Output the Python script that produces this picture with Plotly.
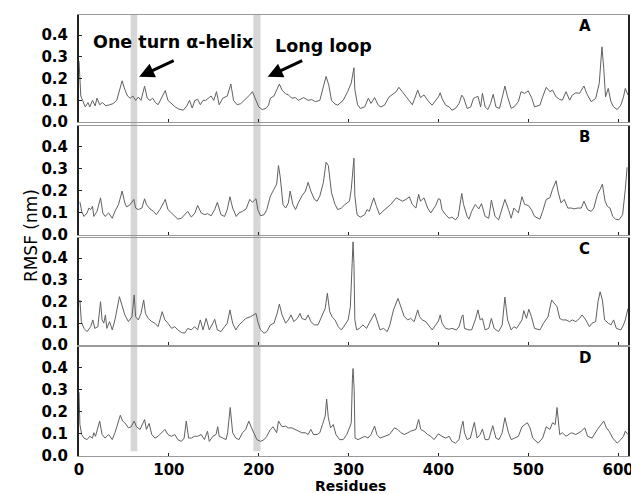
import plotly.graph_objects as go
from plotly.subplots import make_subplots

# ---------------- data ----------------
res_A = [0, 2, 4, 7, 10, 12, 15, 18, 20, 23, 26, 30, 34, 38, 42, 45, 48, 51, 54, 57, 60, 63, 66, 69, 73, 76, 79, 82, 85, 88,
         92, 96, 99, 103, 107, 111, 116, 120, 123, 126, 129, 132, 135, 138, 141, 144, 147, 150, 153, 156, 160, 165, 169, 172, 176, 180, 184, 187,
         190, 193, 196, 200, 204, 208, 211, 213, 217, 220, 223, 226, 230, 233, 237, 241, 244, 250, 255, 259, 263, 268, 272, 275, 278, 281,
         285, 288, 294, 299, 303, 306, 307, 310, 313, 318, 322, 325, 329, 333, 336, 340, 345, 350, 353, 356, 360, 364, 368, 371, 377, 380,
         384, 388, 393, 397,
         400, 402, 404, 408, 412, 415, 419, 423, 426, 428, 432, 436, 439, 441, 444, 447, 449, 452, 455, 458, 461, 464, 468, 471, 474, 477,
         481, 484, 489, 492, 496, 500, 504, 507, 513, 516, 520, 524, 527, 531, 535, 538, 542, 546, 549, 553, 557, 562, 565, 570, 575, 579,
         582, 584, 586, 589, 592, 595, 599, 603, 606, 608, 611]
rmsf_A = [0.280, 0.120, 0.100, 0.070, 0.090, 0.070, 0.100, 0.075, 0.110, 0.080, 0.090, 0.075, 0.080, 0.085, 0.100, 0.150, 0.190, 0.150, 0.120, 0.110,
          0.120, 0.100, 0.115, 0.100, 0.165, 0.110, 0.100, 0.110, 0.090, 0.080,
          0.110, 0.145, 0.100, 0.085, 0.070, 0.060, 0.055, 0.075, 0.100, 0.065, 0.100, 0.105, 0.080, 0.100, 0.100, 0.110, 0.120, 0.100, 0.140, 0.080,
          0.110, 0.120, 0.175, 0.100, 0.080, 0.085, 0.100, 0.110,
          0.125, 0.140, 0.110, 0.070, 0.058, 0.063, 0.078, 0.110, 0.120, 0.147, 0.175, 0.147, 0.130, 0.125, 0.110, 0.113, 0.100, 0.113, 0.100,
          0.104, 0.094, 0.100, 0.160, 0.210, 0.170, 0.100,
          0.083, 0.078, 0.100, 0.140, 0.180, 0.250, 0.150, 0.080, 0.063, 0.070, 0.110, 0.086, 0.113, 0.078, 0.070, 0.078, 0.115, 0.130, 0.140,
          0.160, 0.140, 0.115, 0.100, 0.080, 0.147, 0.113,
          0.125, 0.100, 0.078, 0.100,
          0.116, 0.135, 0.109, 0.078, 0.070, 0.055, 0.063, 0.086, 0.124, 0.113, 0.063, 0.070, 0.109, 0.113, 0.119, 0.070, 0.132, 0.070, 0.058,
          0.086, 0.128, 0.070, 0.063, 0.113, 0.166, 0.116,
          0.063, 0.070, 0.094, 0.140, 0.132, 0.144, 0.109, 0.070, 0.078, 0.116, 0.160, 0.140, 0.147, 0.116, 0.104, 0.101, 0.140, 0.101, 0.124,
          0.135, 0.132, 0.166, 0.132, 0.094, 0.109, 0.178,
          0.346, 0.247, 0.116, 0.155, 0.094, 0.070, 0.058, 0.078, 0.116, 0.155, 0.124]

res_B = [1, 3, 5.5, 9, 11, 13, 15, 16.5, 20, 24, 26.5, 29, 33, 37, 40, 44, 48, 51, 53, 57, 61, 63, 66, 70, 73, 75, 79, 83, 86, 90,
         94, 96, 99, 103, 107, 110, 114, 118, 121, 125, 129, 132, 136, 140, 143, 147, 151, 154, 158, 162, 165, 168, 171, 175, 178, 182, 186,
         190, 193, 197, 199, 202, 206, 209, 213, 217, 220, 222, 224, 227, 230, 233, 235, 238, 241, 244, 248, 252, 255, 258, 262, 265, 268,
         272, 275, 277.5, 281, 285, 288, 292, 296, 301, 303, 306, 307, 309.5, 313, 318, 320.5, 323, 328, 331, 334.5, 338, 343, 347, 353,
         356.5, 360, 364, 367.6, 371, 375, 378, 380, 384, 388, 391.5, 395, 397,
         400, 402, 404, 408, 412, 415, 419, 422, 426, 428, 432, 434, 437, 441, 445, 448, 452, 456, 459, 463, 467, 470, 474, 478, 481, 484,
         489, 493, 496, 500, 503.5, 507, 513, 516, 520, 524, 527, 531, 533, 536.5, 540, 544, 548, 551, 555, 559, 562, 566, 570, 573, 577,
         580, 582.5, 585.5, 588, 591, 594, 597, 601, 605, 606.5, 608, 610]
rmsf_B = [0.150, 0.107, 0.084, 0.100, 0.122, 0.115, 0.130, 0.084, 0.107, 0.168, 0.100, 0.084, 0.100, 0.076, 0.107, 0.138, 0.199, 0.145, 0.127,
          0.138, 0.161, 0.122, 0.115, 0.122, 0.164, 0.138, 0.118, 0.107, 0.092, 0.115,
          0.145, 0.161, 0.115, 0.100, 0.084, 0.072, 0.076, 0.092, 0.107, 0.081, 0.100, 0.134, 0.100, 0.092, 0.097, 0.087, 0.115, 0.148, 0.092,
          0.084, 0.115, 0.173, 0.122, 0.084, 0.100, 0.107, 0.118,
          0.161, 0.148, 0.164, 0.115, 0.087, 0.092, 0.115, 0.176, 0.207, 0.230, 0.314, 0.261, 0.138, 0.122, 0.145, 0.199, 0.138, 0.115, 0.145,
          0.176, 0.199, 0.238, 0.199, 0.161, 0.153, 0.176,
          0.238, 0.329, 0.314, 0.191, 0.138, 0.115, 0.122, 0.138, 0.153, 0.207, 0.347, 0.176, 0.092, 0.081, 0.092, 0.115, 0.107, 0.168, 0.130,
          0.092, 0.107, 0.122, 0.138, 0.168,
          0.161, 0.153, 0.161, 0.173, 0.138, 0.122, 0.184, 0.153, 0.168, 0.122, 0.100, 0.122, 0.134,
          0.164, 0.161, 0.115, 0.092, 0.076, 0.081, 0.069, 0.084, 0.188, 0.138, 0.084, 0.072, 0.107, 0.138, 0.118, 0.142, 0.084, 0.076, 0.158,
          0.084, 0.069, 0.107, 0.161, 0.115, 0.076, 0.122,
          0.100, 0.173, 0.138, 0.134, 0.115, 0.084, 0.072, 0.107, 0.161, 0.168, 0.207, 0.245, 0.199, 0.145, 0.161, 0.122, 0.122, 0.118, 0.122,
          0.122, 0.153, 0.115, 0.107, 0.122, 0.184,
          0.207, 0.230, 0.153, 0.130, 0.122, 0.084, 0.072, 0.069, 0.092, 0.138, 0.207, 0.306]

res_C = [1, 2.6, 5.5, 9, 13, 15.4, 17.6, 21, 24, 25.7, 27.6, 29.4, 31, 34, 37, 40, 45, 48, 51, 55, 59, 61.4, 63, 66, 69, 72, 74, 77, 81,
         84.5, 88, 92.6, 95.6, 99, 103, 106.6, 110, 114, 117.6, 121, 125, 128.6, 132, 135, 138, 141.5, 145, 149, 151, 154, 158, 162, 165,
         168, 171, 174.5, 178, 182, 185.6,
         191, 195, 197, 199, 202, 206, 209, 213, 217, 220.5, 223, 226, 230, 233, 236, 239, 243, 246, 248, 252, 255, 258, 262, 266, 270, 274,
         276.4, 279, 282, 285, 288.5, 292, 296, 299.5, 302, 304, 305, 306, 307, 309, 312, 316, 320, 323, 326, 329, 331.5, 335, 339, 343,
         346, 350, 355, 358, 362, 366, 369, 373, 377, 379, 382, 386, 390, 393, 397,
         400, 402, 404, 408, 412, 415, 420, 423, 426, 427.4, 429, 434, 437, 441, 444, 446.5, 449, 452, 456, 459, 462, 467, 471, 474, 477,
         481, 484, 487, 491, 493, 495, 498, 500.6, 503.5, 507, 513, 517, 522, 526, 529, 532, 535, 538, 542, 546, 549, 553, 557, 560, 564,
         568, 571, 575, 577.6, 580, 582.5, 585, 589, 592, 595, 598, 603, 606, 608, 611]
rmsf_C = [0.207, 0.107, 0.076, 0.061, 0.084, 0.115, 0.076, 0.084, 0.199, 0.115, 0.100, 0.138, 0.076, 0.107, 0.069, 0.115, 0.222, 0.184, 0.138,
          0.107, 0.130, 0.230, 0.130, 0.115, 0.145, 0.207, 0.145, 0.122, 0.107,
          0.100, 0.084, 0.153, 0.115, 0.100, 0.076, 0.084, 0.069, 0.057, 0.054, 0.076, 0.069, 0.084, 0.069, 0.115, 0.069, 0.122, 0.069, 0.100,
          0.118, 0.069, 0.061, 0.084, 0.100,
          0.161, 0.100, 0.069, 0.092, 0.107, 0.122,
          0.130, 0.138, 0.145, 0.107, 0.069, 0.054, 0.061, 0.092, 0.100, 0.145, 0.188, 0.138, 0.100, 0.115, 0.138, 0.107, 0.122, 0.145, 0.122,
          0.115, 0.138, 0.107, 0.092, 0.092, 0.130, 0.168,
          0.238, 0.153, 0.127, 0.115, 0.084, 0.069, 0.092, 0.115, 0.176, 0.375, 0.475, 0.375, 0.115, 0.069, 0.076, 0.092, 0.076, 0.100, 0.122,
          0.145, 0.115, 0.069, 0.076, 0.061,
          0.092, 0.161, 0.214, 0.176, 0.130, 0.115, 0.122, 0.107, 0.161, 0.130, 0.115, 0.107, 0.084, 0.069, 0.092,
          0.110, 0.138, 0.100, 0.076, 0.072, 0.076, 0.069, 0.084, 0.130, 0.138, 0.076, 0.069, 0.069, 0.115, 0.161, 0.115, 0.122, 0.069, 0.076,
          0.122, 0.076, 0.061, 0.092, 0.220, 0.115,
          0.069, 0.084, 0.076, 0.100, 0.115, 0.158, 0.122, 0.164, 0.130, 0.076, 0.069, 0.100, 0.130, 0.207, 0.191, 0.176, 0.122, 0.115, 0.115,
          0.107, 0.115, 0.107, 0.122, 0.138, 0.115,
          0.084, 0.100, 0.107, 0.199, 0.245, 0.207, 0.115, 0.100, 0.092, 0.115, 0.076, 0.069, 0.092, 0.115, 0.168]

res_D = [0, 1, 3, 5.5, 9, 12, 15, 16.5, 18.4, 20, 23, 25.7, 29, 33, 37, 40, 46, 48.5, 51, 55, 58, 61.4, 64, 68, 73, 75, 78, 81, 84.5,
         88, 92, 95.6, 99, 103, 106.6, 110, 114, 117, 119.4, 122, 125, 128.6, 132, 136, 139.6, 143, 145, 149, 152.5, 154.4, 156, 160,
         163.6, 165.4, 168.3, 171, 174.5, 178, 182, 185.6,
         189, 192, 195, 198, 202, 206, 209, 213, 216, 220, 222, 226, 230, 233, 237, 241, 244, 248, 252, 255, 258, 261, 265, 268, 271, 274,
         275.6, 277.5, 280, 283, 286, 290, 294, 298, 301, 303, 304.3, 305, 306.2, 307.2, 310.5, 314, 318, 321.6, 325, 329, 331.5, 335, 340,
         345.5, 351, 354.7, 358.4, 362, 366, 369, 375, 378, 380.4, 384, 388, 391.5, 395,
         400, 404, 408, 412, 415, 419, 423, 425.6, 427.4, 429, 432, 435.5, 440, 443, 446.5, 449, 452, 456, 460.5, 464, 467.5, 471, 474, 478,
         481, 485, 489, 493, 496, 499, 502, 505, 511, 516, 520, 524, 527, 530, 532, 535, 538, 542, 548, 553, 559, 563, 566, 571, 577, 581,
         584, 587, 590, 594, 599, 603, 606, 608, 611]
rmsf_D = [0.288, 0.142, 0.097, 0.081, 0.074, 0.089, 0.081, 0.105, 0.089, 0.112, 0.158, 0.097, 0.081, 0.097, 0.074, 0.105, 0.184, 0.158, 0.150,
          0.127, 0.132, 0.158, 0.132, 0.120, 0.165, 0.120, 0.147, 0.097, 0.081,
          0.089, 0.105, 0.120, 0.097, 0.089, 0.097, 0.074, 0.066, 0.081, 0.158, 0.081, 0.081, 0.089, 0.089, 0.097, 0.074, 0.112, 0.066, 0.089,
          0.097, 0.132, 0.089, 0.081,
          0.074, 0.105, 0.219, 0.105, 0.081, 0.074, 0.105, 0.120,
          0.158, 0.127, 0.097, 0.074, 0.066, 0.074, 0.089, 0.120, 0.132, 0.105, 0.158, 0.132, 0.135, 0.127, 0.127, 0.120, 0.112, 0.105, 0.105,
          0.097, 0.120, 0.097, 0.097, 0.105, 0.142, 0.181,
          0.257, 0.173, 0.127, 0.142, 0.097, 0.074, 0.074, 0.097, 0.127, 0.150, 0.349, 0.395, 0.303, 0.081, 0.074, 0.081, 0.089, 0.081, 0.097,
          0.135, 0.097, 0.081, 0.089,
          0.097, 0.127, 0.120, 0.105, 0.097, 0.105, 0.112, 0.120, 0.165, 0.120, 0.112, 0.097, 0.089, 0.074,
          0.100, 0.089, 0.081, 0.089, 0.066, 0.058, 0.074, 0.132, 0.157, 0.105, 0.074, 0.081, 0.152, 0.081, 0.097, 0.122, 0.074, 0.074, 0.137,
          0.081, 0.074, 0.105, 0.173, 0.105,
          0.074, 0.081, 0.089, 0.132, 0.142, 0.150, 0.127, 0.081, 0.058, 0.081, 0.132, 0.120, 0.150, 0.142, 0.219, 0.097, 0.105, 0.089, 0.105,
          0.097, 0.112, 0.127, 0.089, 0.081, 0.120, 0.142,
          0.158, 0.127, 0.112, 0.081, 0.058, 0.074, 0.089, 0.112, 0.097]

panel_labels = ["A", "B", "C", "D"]
x_ticks = [0, 100, 200, 300, 400, 500, 600]
y_ticks = [0.0, 0.1, 0.2, 0.3, 0.4]
highlight_regions = [(57.5, 64.8), (194, 202)]
annot_texts = ["One turn α-helix", "Long loop"]

series = [(res_A, rmsf_A), (res_B, rmsf_B), (res_C, rmsf_C), (res_D, rmsf_D)]

# ---------------- figure ----------------
fig = make_subplots(rows=4, cols=1, shared_xaxes=False)
domains = [[0.757, 1.0], [0.501, 0.748], [0.252, 0.494], [0.0, 0.247]]

tick_font = dict(family="DejaVu Sans", size=15, color="black", weight="bold")

for i, (rx, ry) in enumerate(series):
    row = i + 1
    fig.add_trace(go.Scatter(x=rx, y=ry, mode="lines",
                             line=dict(color="#606060", width=1),
                             showlegend=False, hoverinfo="skip"), row=row, col=1)
    fig.update_xaxes(range=[0, 611], tickvals=x_ticks, ticks="inside", ticklen=3, tickcolor="#222",
                     showline=True, mirror=True, linecolor="#999999", linewidth=1,
                     showgrid=False, zeroline=False, showticklabels=(row == 4),
                     tickfont=tick_font, ticklabelstandoff=0, row=row, col=1)
    fig.update_yaxes(range=[0, 0.492], tickvals=y_ticks, ticktext=["%.1f" % v for v in y_ticks],
                     ticks="inside", ticklen=3, tickcolor="#222",
                     showline=True, mirror=True, linecolor="#222222", linewidth=2,
                     showgrid=False, zeroline=False, tickfont=tick_font, ticklabelstandoff=6,
                     domain=domains[i], row=row, col=1)
    xr = "x" if row == 1 else "x%d" % row
    yr = "y" if row == 1 else "y%d" % row
    fig.add_annotation(x=563, y=0.443, xref=xr, yref=yr, text=panel_labels[i], showarrow=False,
                       font=dict(family="DejaVu Sans", size=15, color="black", weight="bold"))

for (a, b) in highlight_regions:
    fig.add_shape(type="rect", xref="x", yref="paper", x0=a, x1=b, y0=0.011, y1=1.0,
                  fillcolor="#d6d6d6", line=dict(width=0), layer="below")

ann_font = dict(family="DejaVu Sans", size=17.5, color="black", weight="bold")
fig.add_annotation(x=105.7, y=0.368, xref="x", yref="y", text=annot_texts[0], showarrow=False, font=ann_font)
fig.add_annotation(x=272, y=0.349, xref="x", yref="y", text=annot_texts[1], showarrow=False, font=ann_font)
for hx in [67, 210]:
    fig.add_annotation(x=hx, y=0.208, xref="x", yref="y", text="", showarrow=True,
                       ax=36, ay=-17, arrowhead=2, arrowsize=1, arrowwidth=3, arrowcolor="black")

fig.add_annotation(x=-0.11, y=0.5, xref="paper", yref="paper", text="RMSF (nm)", textangle=-90,
                   showarrow=False, font=dict(family="DejaVu Sans", size=17, color="black"))
fig.add_annotation(x=0.494, y=-0.067, xref="paper", yref="paper", text="Residues", yanchor="middle",
                   showarrow=False, font=dict(family="DejaVu Sans", size=14, color="black", weight="bold"))

fig.update_layout(width=631, height=486, margin=dict(l=71, r=5, t=7, b=38),
                  paper_bgcolor="white", plot_bgcolor="rgba(0,0,0,0)", showlegend=False)

fig.write_html("out.html")
